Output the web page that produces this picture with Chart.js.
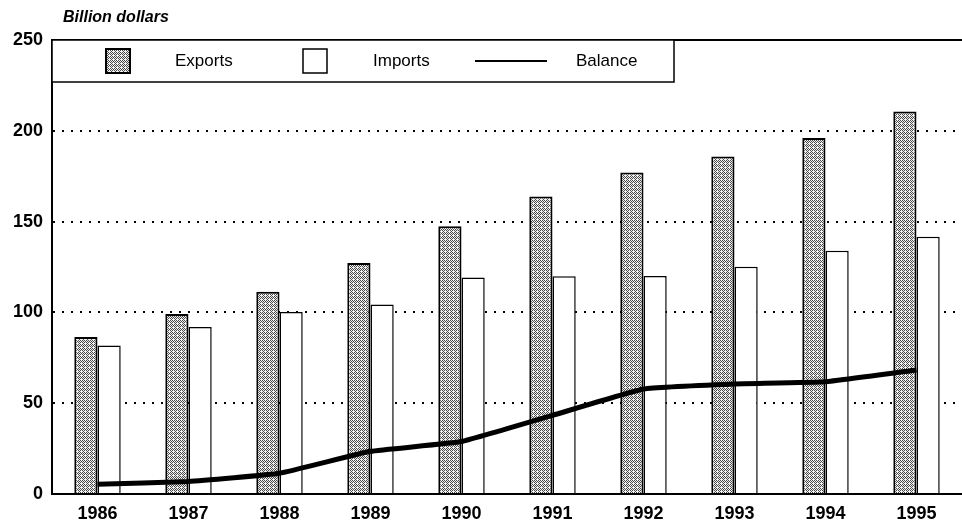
<!DOCTYPE html>
<html>
<head>
<meta charset="utf-8">
<script src="https://cdn.jsdelivr.net/npm/chart.js@4/dist/chart.umd.min.js"></script>
<style>
  html, body { margin: 0; padding: 0; background: #fff; overflow: hidden; }
  #wrap { width: 962px; height: 525px; position: relative; }
</style>
</head>
<body>
<div id="wrap"><canvas id="tradeChart"></canvas></div>
<script>
// values, billion dollars
var years = ['1986', '1987', '1988', '1989', '1990', '1991', '1992', '1993', '1994', '1995'];
var exportsBn = [86.4, 99.1, 111.4, 127.2, 147.5, 163.8, 177, 185.9, 196, 210.6];
var importsBn = [81.8, 92, 100.2, 104.3, 119.2, 119.9, 120, 125.2, 133.9, 141.7];
var balanceBn = [5.4, 6.9, 11.4, 23.5, 28.9, 43.3, 57.8, 60.6, 61.8, 68.3];
var yTicks = [0, 50, 100, 150, 200, 250];
var unitLabel = 'Billion dollars';

var FONT = "'Liberation Sans', Arial, sans-serif";

// stippled grey fill like the printed exports bars
function stipple(){
  var c = document.createElement('canvas');
  c.width = 4; c.height = 4;
  var g = c.getContext('2d');
  g.fillStyle = '#f2f2f2';
  g.fillRect(0, 0, 4, 4);
  g.fillStyle = '#4a4a4a';
  g.fillRect(0, 0, 1, 1);
  g.fillRect(2, 0, 1, 1);
  g.fillRect(1, 1, 1, 1);
  g.fillRect(3, 1, 1, 1);
  g.fillRect(0, 2, 1, 1);
  g.fillRect(3, 3, 1, 1);
  g.fillRect(2, 2, 1, 1);
  return g.createPattern(c, 'repeat');
}
var exportFill = stipple();

// legend box, unit label and top frame line
var frameAndLegend = {
  id: 'frameAndLegend',
  afterDraw: function(chart){
    var ctx = chart.ctx, a = chart.chartArea;
    ctx.save();
    // top frame
    ctx.strokeStyle = '#000';
    ctx.lineWidth = 2;
    ctx.beginPath();
    ctx.moveTo(a.left, a.top);
    ctx.lineTo(chart.width, a.top);
    ctx.stroke();

    // unit label
    ctx.fillStyle = '#000';
    ctx.font = 'italic bold 16px ' + FONT;
    ctx.textBaseline = 'middle';
    ctx.textAlign = 'left';
    ctx.fillText(unitLabel, a.left + 11, a.top - 22);

    // legend box
    var bx = a.left, by = a.top, bw = 622, bh = 42;
    ctx.fillStyle = '#fff';
    ctx.fillRect(bx, by, bw, bh);
    ctx.lineWidth = 1.5;
    ctx.strokeRect(bx, by, bw, bh);

    var cy = by + 21;
    var ds = chart.data.datasets;
    ctx.font = '17px ' + FONT;

    // exports swatch
    ctx.fillStyle = exportFill;
    ctx.fillRect(bx + 54, cy - 12, 24, 24);
    ctx.lineWidth = 2;
    ctx.strokeRect(bx + 54, cy - 12, 24, 24);
    ctx.fillStyle = '#000';
    ctx.fillText(ds[0].label, bx + 123, cy);

    // imports swatch
    ctx.fillStyle = '#fff';
    ctx.fillRect(bx + 251, cy - 12, 24, 24);
    ctx.lineWidth = 1.5;
    ctx.strokeRect(bx + 251, cy - 12, 24, 24);
    ctx.fillStyle = '#000';
    ctx.fillText(ds[1].label, bx + 321, cy);

    // balance line
    ctx.lineWidth = 2;
    ctx.beginPath();
    ctx.moveTo(bx + 423, cy);
    ctx.lineTo(bx + 495, cy);
    ctx.stroke();
    ctx.fillText(ds[2].label, bx + 524, cy);
    ctx.restore();
  }
};

new Chart(document.getElementById('tradeChart'), {
  type: 'bar',
  data: {
    labels: years,
    datasets: [
      {
        label: 'Exports',
        data: exportsBn,
        backgroundColor: exportFill,
        borderColor: '#000',
        borderWidth: 2,
        categoryPercentage: 0.51,
        barPercentage: 1.0,
        order: 1
      },
      {
        label: 'Imports',
        data: importsBn,
        backgroundColor: '#fff',
        borderColor: '#000',
        borderWidth: 1.5,
        categoryPercentage: 0.51,
        barPercentage: 1.0,
        order: 2
      },
      {
        type: 'line',
        label: 'Balance',
        data: balanceBn,
        borderColor: '#000',
        backgroundColor: '#000',
        borderWidth: 5,
        pointRadius: 0,
        tension: 0.1,
        fill: false,
        order: 0
      }
    ]
  },
  options: {
    responsive: true,
    maintainAspectRatio: false,
    animation: false,
    layout: { padding: { top: 40, right: -12, left: 0, bottom: 0 } },
    plugins: {
      legend: { display: false },
      tooltip: { enabled: false },
      title: { display: false }
    },
    scales: {
      x: {
        offset: true,
        grid: { display: false, drawTicks: false },
        border: { display: true, color: '#000', width: 2 },
        ticks: { color: '#000', font: { family: FONT, size: 18, weight: 'bold' }, padding: 9, maxRotation: 0 },
        afterFit: function(s){ s.height = 31; }
      },
      y: {
        min: 0,
        max: 250,
        afterBuildTicks: function(s){ s.ticks = yTicks.map(function(v){ return { value: v }; }); },
        grid: { color: '#000', lineWidth: 2, drawTicks: false },
        border: { display: true, color: '#000', width: 2, dash: [2, 7] },
        ticks: { color: '#000', font: { family: FONT, size: 18, weight: 'bold' }, padding: 9 },
        afterFit: function(s){ s.width = 52; }
      }
    }
  },
  plugins: [frameAndLegend]
});
</script>
</body>
</html>
